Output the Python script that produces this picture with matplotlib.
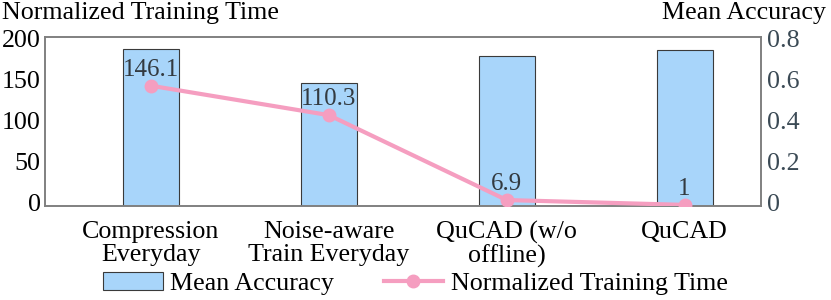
import matplotlib
matplotlib.use('Agg')
import matplotlib.pyplot as plt
import matplotlib.transforms as mtransforms
import numpy as np

# chart data
methods = ["Compression\nEveryday", "Noise-aware\nTrain Everyday", "QuCAD (w/o\noffline)", "QuCAD"]
mean_acc = [0.764, 0.599, 0.727, 0.759]
train_time = [146.1, 110.3, 6.9, 1]
time_labels = ["146.1", "110.3", "6.9", "1"]

plt.rcParams['font.family'] = ['Liberation Serif', 'DejaVu Serif']

fig = plt.figure(figsize=(8.31, 3.0), dpi=100)
ax_t = fig.add_axes([0.0542, 0.3143, 0.9158 - 0.0542, 0.8767 - 0.3143])
ax_a = ax_t.twinx()

x = np.arange(len(methods))

# bars on the right axis (accuracy)
bars = ax_a.bar(x, mean_acc, width=0.315, color='#a8d5fa', edgecolor='#3a3a3a',
                linewidth=0.8, label='Mean Accuracy', zorder=1)
ax_a.set_ylim(0, 0.822)
ax_a.set_yticks([0, 0.2, 0.4, 0.6, 0.8])
ax_a.set_yticklabels(['0', '0.2', '0.4', '0.6', '0.8'])

# line on the left axis (time), drawn above bars
ax_t.set_zorder(ax_a.get_zorder() + 1)
ax_t.patch.set_visible(False)
line, = ax_t.plot(x, train_time, color='#f59ec0', linewidth=3, marker='o',
                  markersize=9, label='Normalized Training Time', zorder=3)
for xi, yi, lab in zip(x, train_time, time_labels):
    ax_t.annotate(lab, (xi, yi), xytext=(0, 7), textcoords='offset points',
                  ha='center', va='baseline', fontsize=18, color='#333a40')
ax_t.set_ylim(0, 205.5)
ax_t.set_yticks([0, 50, 100, 150, 200])
ax_t.set_xlim(-0.596, 3.43)
ax_t.set_xticks(x)
ax_t.set_xticklabels(methods, fontsize=18.7, linespacing=1.05)

ax_t.tick_params(axis='x', length=0, pad=11)
ax_t.tick_params(axis='y', length=0, pad=3, labelsize=18.7, labelcolor='black')
ax_a.tick_params(axis='y', length=0, pad=4, labelsize=18.7, labelcolor='#3b4a55')

# nudge the y labels up a little like the original
shift = mtransforms.ScaledTranslation(0, 3 / 100, fig.dpi_scale_trans)
for lab in ax_t.get_yticklabels() + ax_a.get_yticklabels():
    lab.set_transform(lab.get_transform() + shift)

for a in (ax_t, ax_a):
    for s in a.spines.values():
        s.set_color('#808080')
        s.set_linewidth(1.2)

fig.text(0.003, 0.955, "Normalized Training Time", ha='left', va='center', fontsize=18.7)
fig.text(0.994, 0.955, "Mean Accuracy", ha='right', va='center', fontsize=18.7)

fig.legend([bars, line], ['Mean Accuracy', 'Normalized Training Time'],
           loc='center', bbox_to_anchor=(0.5, 0.055), ncol=2, frameon=False,
           fontsize=18.7, handlelength=2.3, handletextpad=0.3, columnspacing=1.9,
           borderpad=0, borderaxespad=0)

fig.savefig('out.png', dpi=100)
